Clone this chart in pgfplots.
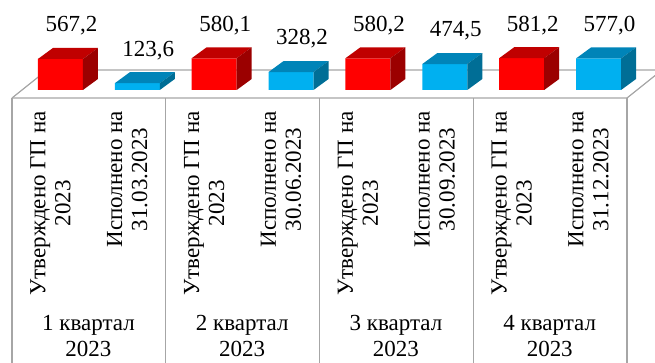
\documentclass[border=0pt]{standalone}
\usepackage{pgfplots}
\pgfplotsset{compat=1.18}
\usepackage{fontspec}
\setmainfont{Liberation Serif}
\definecolor{redfront}{RGB}{255,0,0}
\definecolor{redtop}{RGB}{192,0,0}
\definecolor{redside}{RGB}{155,0,0}
\definecolor{bluefront}{RGB}{0,176,240}
\definecolor{bluetop}{RGB}{0,132,184}
\definecolor{blueside}{RGB}{0,110,150}
\definecolor{gridgray}{RGB}{166,166,166}
\tikzset{
  vallab/.style={font=\fontsize{23}{27}\selectfont, text=black, anchor=center, xshift=11pt, yshift=33pt},
  rotlab/.style={rotate=90, anchor=east, align=center, inner sep=0pt, font=\fontsize{23}{25}\selectfont},
  grplab/.style={anchor=north, align=center, inner sep=0pt, font=\fontsize{23}{26}\selectfont},
}

\pgfdeclareplotmark{cubered}{%
  \pgfmathsetlengthmacro\hh{\rawy*0.0547pt}%
  \pgfpathmoveto{\pgfqpoint{-22.5pt}{0pt}}%
  \pgfpathlineto{\pgfqpoint{22.5pt}{0pt}}%
  \pgfpathlineto{\pgfqpoint{37.5pt}{11pt}}%
  \pgfpathlineto{\pgfqpoint{-7.5pt}{11pt}}%
  \pgfpathclose
  \pgfsetfillcolor{redtop}%
  \pgfusepath{fill}%
  \pgfpathmoveto{\pgfqpoint{22.5pt}{0pt}}%
  \pgfpathlineto{\pgfpoint{22.5pt}{-\hh}}%
  \pgfpathlineto{\pgfpoint{37.5pt}{11pt-\hh}}%
  \pgfpathlineto{\pgfqpoint{37.5pt}{11pt}}%
  \pgfpathclose
  \pgfsetfillcolor{redside}%
  \pgfusepath{fill}%
}
\pgfdeclareplotmark{cubeblue}{%
  \pgfmathsetlengthmacro\hh{\rawy*0.0547pt}%
  \pgfpathmoveto{\pgfqpoint{-22.5pt}{0pt}}%
  \pgfpathlineto{\pgfqpoint{22.5pt}{0pt}}%
  \pgfpathlineto{\pgfqpoint{37.5pt}{11pt}}%
  \pgfpathlineto{\pgfqpoint{-7.5pt}{11pt}}%
  \pgfpathclose
  \pgfsetfillcolor{bluetop}%
  \pgfusepath{fill}%
  \pgfpathmoveto{\pgfqpoint{22.5pt}{0pt}}%
  \pgfpathlineto{\pgfpoint{22.5pt}{-\hh}}%
  \pgfpathlineto{\pgfpoint{37.5pt}{11pt-\hh}}%
  \pgfpathlineto{\pgfqpoint{37.5pt}{11pt}}%
  \pgfpathclose
  \pgfsetfillcolor{blueside}%
  \pgfusepath{fill}%
}

\begin{document}
\begin{tikzpicture}
\begin{axis}[
  x=153.75pt, y=0.0547pt,
  xmin=-0.14309, xmax=4.11707, ymin=-4990.9, ymax=1645.3,
  hide axis, clip=true,
  /pgf/number format/assume math mode=true,
]
\coordinate (BL) at (axis cs:-0.14309,-4990.9);
\coordinate (TR) at (axis cs:4.11707,1645.3);
% floor
\draw[gridgray, line width=1.2pt, line join=round] (axis cs:-0.065,-146.25) -- (axis cs:0.1626,365.6) -- (axis cs:4.3,365.6);
\draw[gridgray, line width=1.2pt, line join=round] (axis cs:-0.065,-146.25) -- (axis cs:3.935,-146.25) -- (axis cs:4.1626,365.6);
\draw[gridgray, line width=1.2pt] (axis cs:-0.065,-146.25) -- (axis cs:-0.065,-5200);
\draw[gridgray, line width=1.2pt] (axis cs:0.935,-146.25) -- (axis cs:0.935,-5200);
\draw[gridgray, line width=1.2pt] (axis cs:1.935,-146.25) -- (axis cs:1.935,-5200);
\draw[gridgray, line width=1.2pt] (axis cs:2.935,-146.25) -- (axis cs:2.935,-5200);
\draw[gridgray, line width=1.2pt] (axis cs:3.935,-146.25) -- (axis cs:3.935,-5200);
% front faces
\addplot[ybar, bar width=45pt, bar shift=0pt, fill=redfront, draw=none]
  coordinates {(0.25,567.2) (1.25,580.1) (2.25,580.2) (3.25,581.2)};
\addplot[ybar, bar width=45pt, bar shift=0pt, fill=bluefront, draw=none]
  coordinates {(0.75,123.6) (1.75,328.2) (2.75,474.5) (3.75,577.0)};
% top and side faces, value labels
\addplot[only marks, mark=cubered, visualization depends on={rawy \as \rawy},
  nodes near coords={\pgfmathprintnumber[fixed,fixed zerofill,precision=1,use comma]{\pgfplotspointmeta}},
  every node near coord/.append style={vallab}]
  coordinates {(0.25,567.2) (1.25,580.1) (2.25,580.2) (3.25,581.2)};
\addplot[only marks, mark=cubeblue, visualization depends on={rawy \as \rawy},
  nodes near coords={\pgfmathprintnumber[fixed,fixed zerofill,precision=1,use comma]{\pgfplotspointmeta}},
  every node near coord/.append style={vallab}]
  coordinates {(0.75,123.6) (1.75,328.2) (2.75,474.5) (3.75,577.0)};
% category labels
\node[rotlab] at (axis cs:0.185,-384) {Утверждено ГП на\\2023};
\node[rotlab] at (axis cs:0.685,-384) {Исполнено на\\31.03.2023};
\node[rotlab] at (axis cs:1.185,-384) {Утверждено ГП на\\2023};
\node[rotlab] at (axis cs:1.685,-384) {Исполнено на\\30.06.2023};
\node[rotlab] at (axis cs:2.185,-384) {Утверждено ГП на\\2023};
\node[rotlab] at (axis cs:2.685,-384) {Исполнено на\\30.09.2023};
\node[rotlab] at (axis cs:3.185,-384) {Утверждено ГП на\\2023};
\node[rotlab] at (axis cs:3.685,-384) {Исполнено на\\31.12.2023};
\node[grplab] at (axis cs:0.4325,-4113) {1 квартал\\2023};
\node[grplab] at (axis cs:1.4325,-4113) {2 квартал\\2023};
\node[grplab] at (axis cs:2.4325,-4113) {3 квартал\\2023};
\node[grplab] at (axis cs:3.4325,-4113) {4 квартал\\2023};
\end{axis}
\pgfresetboundingbox
\path[use as bounding box] (BL) rectangle (TR);
\end{tikzpicture}
\end{document}
